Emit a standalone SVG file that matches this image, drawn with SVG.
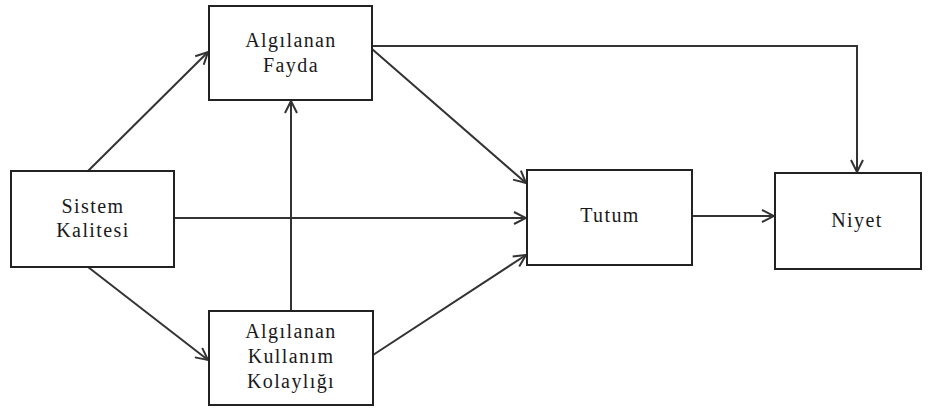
<svg xmlns="http://www.w3.org/2000/svg" width="933" height="410" viewBox="0 0 933 410">
<style>
.box{fill:#fff;stroke:#222;stroke-width:2}
.t{font-family:"Liberation Serif","Times New Roman",serif;font-size:20px;letter-spacing:1.4px;fill:#1a1a1a;text-anchor:middle}
.c{fill:none;stroke:#333;stroke-width:2}
</style>
<defs>
<marker id="a" viewBox="0 0 14 14" refX="13" refY="7" markerWidth="14" markerHeight="14" markerUnits="userSpaceOnUse" orient="auto">
<path d="M1,1 L13,7 L1,13" fill="none" stroke="#333" stroke-width="2"/>
</marker>
</defs>
<g id="connectors">
<path class="c" d="M88,171 L208,52" marker-end="url(#a)"/>
<path class="c" d="M88,267 L208,360" marker-end="url(#a)"/>
<path class="c" d="M174,218 L526,218" marker-end="url(#a)"/>
<path class="c" d="M291,311 L291,101" marker-end="url(#a)"/>
<path class="c" d="M372,49 L526,183" marker-end="url(#a)"/>
<path class="c" d="M373,355 L526,255" marker-end="url(#a)"/>
<path class="c" d="M692,216 L774,216" marker-end="url(#a)"/>
<path class="c" d="M372,46 L857,46 L857,172" marker-end="url(#a)"/>
</g>
<g id="sistem">
<rect class="box" x="11" y="171" width="163" height="96"/>
<text class="t" x="93" y="213">Sistem</text>
<text class="t" x="93" y="237">Kalitesi</text>
</g>
<g id="fayda">
<rect class="box" x="209" y="6" width="163" height="94"/>
<text class="t" x="291" y="47">Algılanan</text>
<text class="t" x="291" y="72">Fayda</text>
</g>
<g id="kolaylik">
<rect class="box" x="209" y="311" width="164" height="94"/>
<text class="t" x="291" y="338">Algılanan</text>
<text class="t" x="291" y="363">Kullanım</text>
<text class="t" x="291" y="388">Kolaylığı</text>
</g>
<g id="tutum">
<rect class="box" x="527" y="170" width="165" height="95"/>
<text class="t" x="610" y="222">Tutum</text>
</g>
<g id="niyet">
<rect class="box" x="775" y="173" width="146" height="96"/>
<text class="t" x="857" y="227">Niyet</text>
</g>
</svg>
